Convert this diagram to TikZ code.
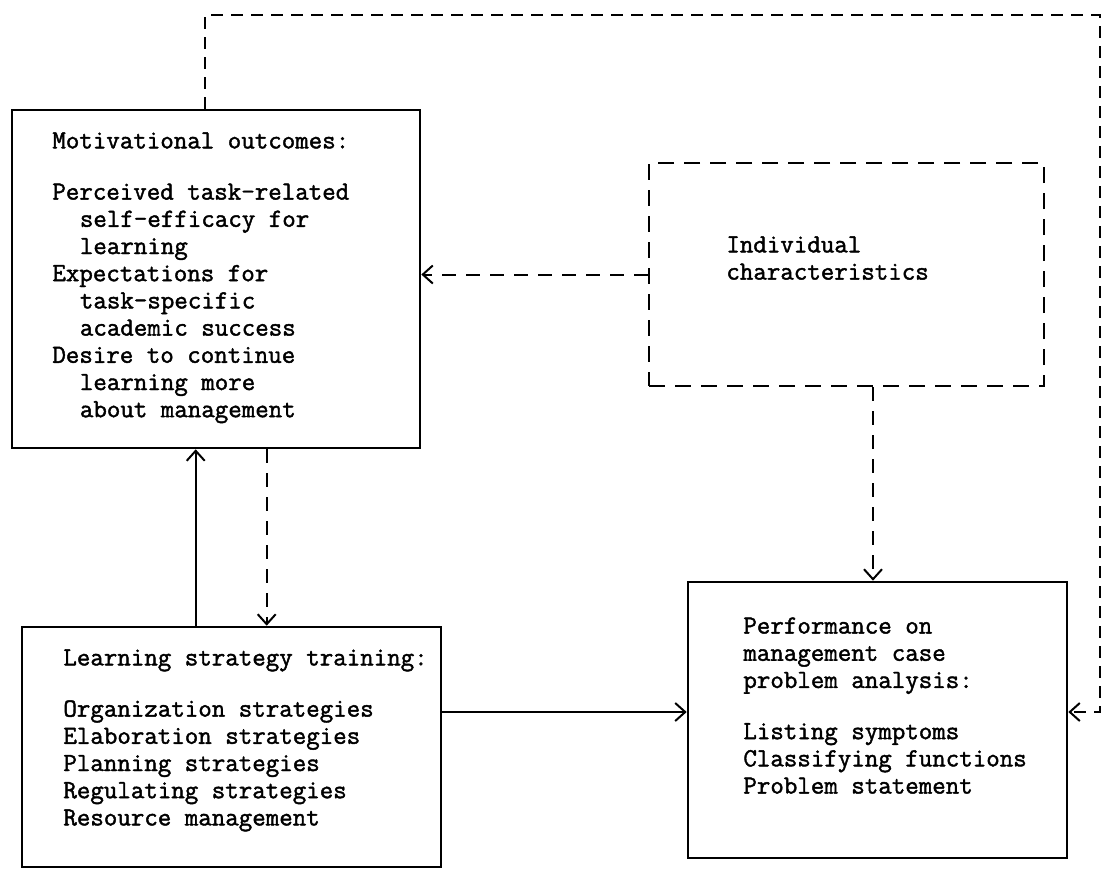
\documentclass[tikz,border=0pt]{standalone}
\usepackage{fontspec}
\usetikzlibrary{arrows.meta, positioning, calc}
\newfontfamily\typewriter[FakeBold=1.6]{Latin Modern Mono}
\newcommand{\ind}{\hspace*{1.05em}}
\newcommand{\gap}{12pt}
\tikzset{
  solidbox/.style={
    rectangle, draw=black, line width=1.3pt,
    inner sep=0pt,
  },
  dashbox/.style={
    rectangle, draw=black, line width=1.3pt,
    dash pattern=on 8pt off 5pt, inner sep=0pt,
  },
  boxtext/.style={
    anchor=north west, inner sep=0pt, align=left,
    font=\typewriter\fontsize{13.1}{13.6}\selectfont,
  },
  arrow/.style={-{Straight Barb[length=5pt, width=9pt]}, line width=1pt},
  dasharrow/.style={arrow, dash pattern=on 7pt off 5pt},
}
\begin{document}
\begin{tikzpicture}[x=0.5pt, y=-0.5pt]

  \useasboundingbox (0,0) rectangle (1105,875);

  \node[solidbox, minimum width=204pt, minimum height=169pt] (motiv) at (216,279) {};
  \node[dashbox, minimum width=197.5pt, minimum height=111.5pt] (indiv) at (846.5,274.5) {};
  \node[solidbox, minimum width=209.5pt, minimum height=120pt] (learn) at (231.5,747) {};
  \node[solidbox, minimum width=189.5pt, minimum height=138pt] (perf) at (877.5,720) {};

  \node[boxtext] (motivtext) at (52,132) {Motivational outcomes:\\[\gap]
    Perceived task-related\\ \ind self-efficacy for\\ \ind learning\\
    Expectations for\\ \ind task-specific\\ \ind academic success\\
    Desire to continue\\ \ind learning more\\ \ind about management};
  \node[boxtext] (indivtext) at (726,236) {Individual\\characteristics};
  \node[boxtext] (learntext) at (63,649) {Learning strategy training:\\[\gap]
    Organization strategies\\ Elaboration strategies\\ Planning strategies\\
    Regulating strategies\\ Resource management};
  \node[boxtext] (perftext) at (743,617) {Performance on\\ management case\\
    problem analysis:\\[\gap]
    Listing symptoms\\ Classifying functions\\ Problem statement};

  \coordinate (loopcorner) at (1100,15);

  \draw[dasharrow] (indiv.west) -- (indiv.west -| motiv.east);
  \draw[arrow] ([xshift=87.5pt]learn.north west) -- ([xshift=87.5pt]learn.north west |- motiv.south);
  \draw[dasharrow] ([xshift=128pt]motiv.south west) -- ([xshift=128pt]motiv.south west |- learn.north);
  \draw[arrow] ([yshift=4pt]perf.west -| learn.east) -- ([yshift=4pt]perf.west);
  \draw[dasharrow] ([xshift=13.25pt]indiv.south) -- ([xshift=13.25pt]indiv.south |- perf.north);
  \draw[dasharrow, dash pattern=on 6pt off 4pt] ([xshift=-5.5pt]motiv.north) |- (loopcorner) |- ([yshift=4pt]perf.east);

\end{tikzpicture}
\end{document}
